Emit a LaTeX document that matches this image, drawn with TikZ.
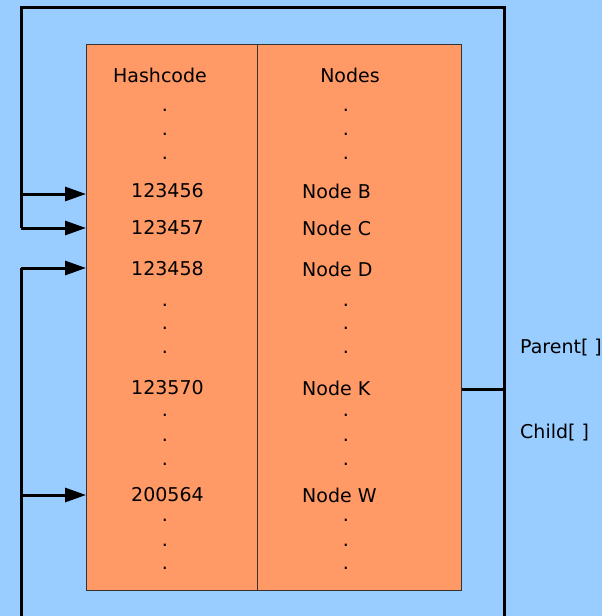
\documentclass[tikz,border=0pt]{standalone}
\usepackage{fontspec}
\setmainfont{DejaVu Sans}
\usetikzlibrary{arrows.meta}
\definecolor{bgblue}{HTML}{99CCFF}
\definecolor{cellorange}{HTML}{FF9966}
\tikzset{
  wire/.style={line width=3pt, black},
  arr/.style={wire, -{Triangle[length=21pt,width=14pt]}},
  lbl/.style={inner sep=0pt, font=\fontsize{19}{22}\selectfont},
  numlbl/.style={lbl, anchor=west},
  dotlbl/.style={lbl},
}
\begin{document}
\begin{tikzpicture}[x=1pt,y=-1pt]
\useasboundingbox (0,0) rectangle (602,616);
\fill[bgblue] (0,0) rectangle (602,616);
% table
\node[draw=black!80, line width=1pt, fill=cellorange, minimum width=375pt, minimum height=546pt, inner sep=0pt, anchor=north west] (tbl) at (86,44) {};
\coordinate (divtop) at (257,44);
\coordinate (divbot) at (257,590);
\draw[line width=1pt, black!80] (divtop) -- (divbot);
% headers
\node[lbl] (hh) at (160,75) {Hashcode};
\node[lbl] (hn) at (350,75) {Nodes};
% dots
\foreach \i/\y in {a/110,b/134,c/158,d/305,e/328,f/352,g/415,h/440,i/464,j/520,k/545,l/568}{
  \node[dotlbl] (dh\i) at (165,\y) {.};
  \node[dotlbl] (dn\i) at (346,\y) {.};
}
% rows
\node[numlbl] (h1) at (131,191) {123456};
\node[numlbl] (n1) at (302,191) {Node B};
\node[numlbl] (h2) at (131,228) {123457};
\node[numlbl] (n2) at (302,228) {Node C};
\node[numlbl] (h3) at (131,269) {123458};
\node[numlbl] (n3) at (302,269) {Node D};
\node[numlbl] (h4) at (131,388) {123570};
\node[numlbl] (n4) at (302,388) {Node K};
\node[numlbl] (h5) at (131,495) {200564};
\node[numlbl] (n5) at (302,495) {Node W};
% side labels
\node[numlbl] (par) at (520,348) {Parent[ ]};
\node[numlbl] (chi) at (520,433) {Child[ ]};
% wires
\coordinate (tl) at (21,7);
\coordinate (tr) at (504,7);
\coordinate (br) at (504,616);
\coordinate (l1) at (21,194);
\coordinate (l2) at (21,228);
\coordinate (l3) at (21,268);
\coordinate (l4) at (21,495);
\coordinate (lb) at (21,616);
\coordinate (rk) at (504,389);
\draw[wire] (l2) -- (tl) -- (tr) -- (br);
\draw[wire] (lb) -- (l3);
\draw[arr] (l1) -- (l1 -| tbl.west);
\draw[arr] (l2) -- (l2 -| tbl.west);
\draw[arr] (l3) -- (l3 -| tbl.west);
\draw[arr] (l4) -- (l4 -| tbl.west);
\draw[wire] (rk -| tbl.east) -- (rk);
\end{tikzpicture}
\end{document}
